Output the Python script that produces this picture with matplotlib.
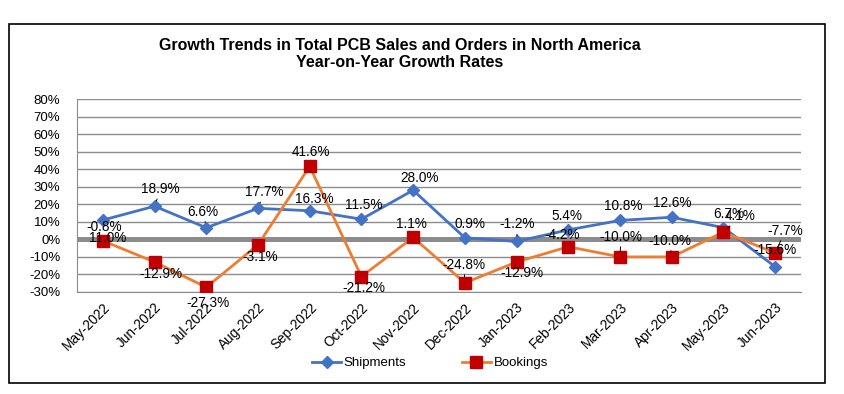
import matplotlib
matplotlib.use("Agg")
import matplotlib.pyplot as plt
from matplotlib.patches import Rectangle
import numpy as np

plt.rcParams['font.family'] = ['Liberation Sans', 'DejaVu Sans']

months = ["May-2022", "Jun-2022", "Jul-2022", "Aug-2022", "Sep-2022", "Oct-2022",
          "Nov-2022", "Dec-2022", "Jan-2023", "Feb-2023", "Mar-2023", "Apr-2023",
          "May-2023", "Jun-2023"]
shipments = [11.0, 18.9, 6.6, 17.7, 16.3, 11.5, 28.0, 0.9, -1.2, 5.4, 10.8, 12.6, 6.7, -15.6]
bookings = [-0.8, -12.9, -27.3, -3.1, 41.6, -21.2, 1.1, -24.8, -12.9, -4.2, -10.0, -10.0, 4.1, -7.7]
yticks = [-30, -20, -10, 0, 10, 20, 30, 40, 50, 60, 70, 80]

# label offsets in pixels (dx, dy) and leader-line flags
ship_off = [(5, -18), (6, 17), (-3, 16), (6, 16), (5, 12), (2, 14), (6, 12),
            (5, 14), (1, 17), (-1, 14), (3, 14), (1, 14), (5, 14), (0, 17)]
ship_lead = [0, 1, 1, 1, 0, 0, 0, 0, 1, 0, 0, 0, 0, 0]
book_off = [(1, 14), (6, -12), (2, -16), (2, -12), (1, 14), (2, -11), (-2, 13),
            (-1, 18), (5, -11), (-6, 12), (1, 20), (-2, 16), (17, 16), (10, 22)]
book_lead = [0, 0, 0, 0, 0, 0, 0, 1, 0, 0, 1, 1, 1, 1]

fig = plt.figure(figsize=(8.44, 3.94), dpi=100)
fig.patches.append(Rectangle((9/844, 1-383/394), 816/844, 359/394, transform=fig.transFigure,
                             fill=False, edgecolor='black', linewidth=1.2))
ax = fig.add_axes([77/844, 1-292/394, 724/844, 193/394])

x = np.arange(len(months))
ax.set_xlim(-0.5, len(months) - 0.5)
ax.set_ylim(-30, 80)
ax.set_yticks(yticks)
ax.set_yticklabels([f"{v}%" for v in yticks], fontsize=9.5)
ax.yaxis.grid(True, color='#8c8c8c', linewidth=1.0)
ax.set_axisbelow(True)
ax.axhline(0, color='#8c8c8c', linewidth=3.6, zorder=1.5)
for s in ['top', 'right']:
    ax.spines[s].set_visible(False)
ax.spines['left'].set_color('#8c8c8c')
ax.spines['bottom'].set_color('#8c8c8c')
ax.tick_params(axis='both', length=0)
ax.tick_params(axis='y', pad=12)
ax.set_xticks(x)
ax.set_xticklabels(months, rotation=45, ha='right', rotation_mode='anchor', fontsize=9.8)
ax.tick_params(axis='x', pad=6)

ax.plot(x, shipments, color='#4472C4', linewidth=2, marker='D', markersize=6,
        markerfacecolor='#4472C4', markeredgecolor='#4472C4', label='Shipments', zorder=3)
ax.plot(x, bookings, color='#ED7D31', linewidth=2, marker='s', markersize=9,
        markerfacecolor='#C00000', markeredgecolor='#C00000', label='Bookings', zorder=4)

def label(vals, offs, leads):
    for i, v in enumerate(vals):
        dx, dy = offs[i]
        kw = {}
        if leads[i]:
            kw['arrowprops'] = dict(arrowstyle='-', color='black', lw=0.7, shrinkA=0, shrinkB=4)
        ax.annotate(f"{v:.1f}%", (x[i], v), xytext=(dx, dy), textcoords='offset pixels',
                    ha='center', va='center', fontsize=9.8, color='black', zorder=6, **kw)

label(shipments, ship_off, ship_lead)
label(bookings, book_off, book_lead)

fig.text(399.5/844, 1-54/394, "Growth Trends in Total PCB Sales and Orders in North America\nYear-on-Year Growth Rates",
         ha='center', va='center', fontsize=11.5, fontweight='bold', linespacing=1.1)

leg = fig.legend(loc='center', bbox_to_anchor=(430/844, 1-363/394), ncol=2, frameon=False,
                 fontsize=9.5, handlelength=2.2, columnspacing=4.2, handletextpad=0.2)

fig.savefig("out.png", dpi=100)
